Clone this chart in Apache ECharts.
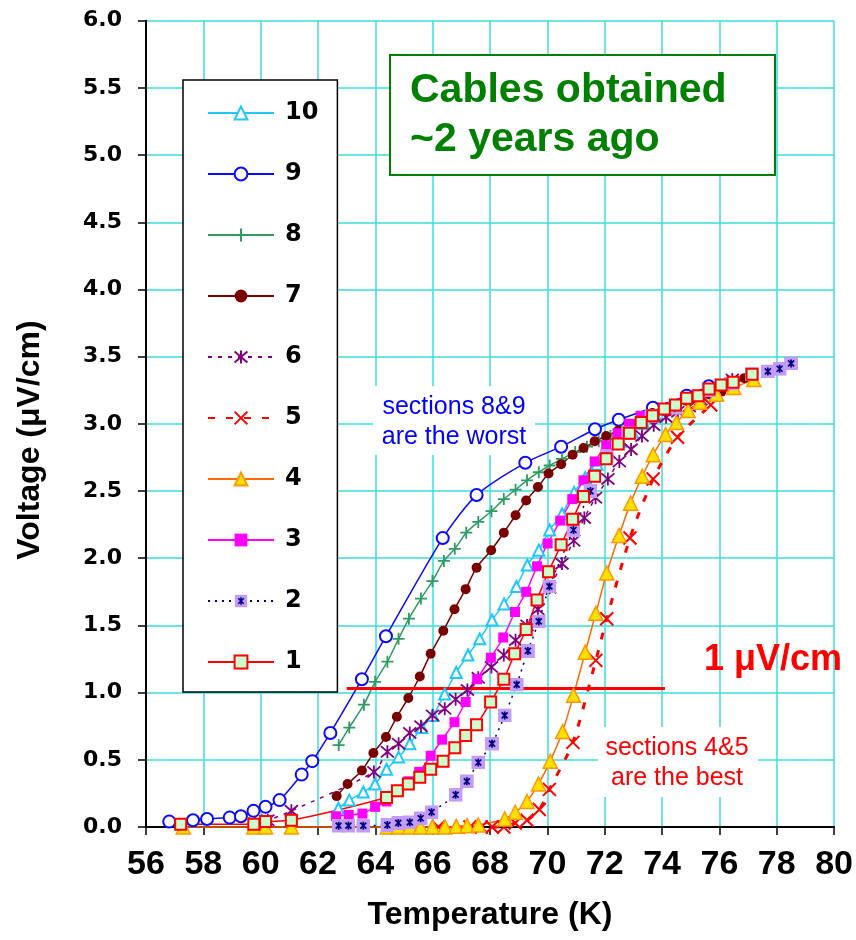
<!DOCTYPE html>
<html>
<head>
<meta charset="utf-8">
<script src="https://cdn.jsdelivr.net/npm/echarts@6/dist/echarts.min.js"></script>
<style>
html,body{margin:0;padding:0;background:#fff;}
#chart{width:856px;height:940px;}
</style>
</head>
<body>
<div id="chart"></div>
<script>
// ---- data (temperature K, voltage uV/cm) ----
const xTicks = [56,58,60,62,64,66,68,70,72,74,76,78,80];
const seriesNames = ['10','9','8','7','6','5','4','3','2','1'];

const s10x = [62.71,63.09,63.58,63.99,64.39,64.81,65.2,65.62,66.01,66.42,66.82,67.23,67.64,68.07,68.49,68.92,69.3,69.7,70.08,70.51,70.93,71.32,71.73,72.14,72.55,72.96,73.37,73.78];
const s10y = [0.14,0.20,0.26,0.32,0.43,0.52,0.62,0.74,0.83,0.99,1.15,1.28,1.40,1.54,1.66,1.79,1.95,2.06,2.21,2.33,2.49,2.60,2.70,2.79,2.87,2.94,3.00,3.06];

const s9x = [56.81,57.64,58.13,58.92,59.31,59.75,60.17,60.66,61.43,61.80,62.43,63.53,64.37,66.35,67.53,69.23,70.48,71.66,72.49,73.68,74.86,75.63];
const s9y = [0.04,0.05,0.06,0.07,0.08,0.12,0.15,0.20,0.39,0.49,0.70,1.10,1.42,2.15,2.47,2.71,2.83,2.96,3.03,3.12,3.21,3.28];

const s8x = [62.72,63.09,63.60,63.99,64.42,64.81,65.17,65.59,65.99,66.39,66.77,67.17,67.59,68.05,68.48,68.89,69.29,69.70,70.08,70.51,70.97,71.38,71.79,72.20,72.61,73.02,73.43,73.84];
const s8y = [0.61,0.74,0.91,1.08,1.23,1.40,1.55,1.70,1.83,1.98,2.07,2.19,2.27,2.35,2.44,2.51,2.58,2.64,2.69,2.74,2.79,2.83,2.87,2.91,2.95,2.99,3.03,3.07];

const s7x = [62.65,63.03,63.53,63.93,64.37,64.75,65.15,65.55,65.93,66.37,66.76,67.15,67.53,68.04,68.48,68.89,69.26,69.67,70.04,70.48,70.88,71.26,71.65,72.05,72.47,72.86,73.26,73.66,74.06,74.46,74.86,75.26,75.66,76.07,76.47,76.87];
const s7y = [0.23,0.32,0.42,0.55,0.67,0.82,0.96,1.12,1.29,1.46,1.62,1.77,1.93,2.06,2.19,2.32,2.43,2.53,2.63,2.70,2.77,2.82,2.87,2.91,2.95,3.00,3.04,3.08,3.11,3.14,3.17,3.20,3.22,3.24,3.29,3.34];

const s6x = [59.8,60.25,61.07,63.95,64.42,64.81,65.2,65.59,65.99,66.42,66.8,67.21,67.59,68.05,68.48,68.89,69.29,69.67,70.08,70.51,70.92,71.29,71.68,72.11,72.51,72.92,73.3,73.71,74.14,74.55,74.95,75.35,75.66,76.45];
const s6y = [0.03,0.05,0.12,0.41,0.56,0.62,0.70,0.75,0.83,0.88,0.95,1.02,1.11,1.19,1.28,1.39,1.50,1.62,1.78,1.96,2.13,2.30,2.45,2.59,2.72,2.81,2.91,2.99,3.05,3.09,3.13,3.18,3.23,3.33];

const s5x = [66.2,67.3,67.7,68.07,68.48,68.88,69.29,69.72,70.07,70.89,71.69,72.07,72.88,73.69,74.54,75.7];
const s5y = [0.0,0.0,0.0,0.0,0.0,0.03,0.05,0.13,0.28,0.63,1.24,1.55,2.15,2.59,2.90,3.14];

const s4x = [57.3,59.76,60.17,61.07,64.42,64.8,65.2,65.58,65.99,66.43,66.82,67.2,67.59,68.51,68.88,69.29,69.69,70.1,70.53,70.91,71.32,71.69,72.07,72.5,72.9,73.31,73.69,74.12,74.5,74.91,75.32,75.9,76.5,77.2];
const s4y = [0,0,0,0,0,0,0,0,0,0,0.005,0.01,0.015,0.06,0.11,0.19,0.32,0.49,0.71,0.98,1.30,1.59,1.89,2.17,2.41,2.61,2.77,2.92,3.01,3.10,3.16,3.22,3.27,3.33];

const s3x = [62.63,63.07,63.55,63.99,64.39,64.77,65.15,65.53,65.93,66.33,66.76,67.15,67.55,68.03,68.46,68.87,69.26,69.64,70.01,70.45,70.87,71.26,71.65,72.05,72.45,72.85,73.25];
const s3y = [0.08,0.09,0.10,0.15,0.19,0.26,0.34,0.41,0.53,0.65,0.78,0.93,1.10,1.26,1.41,1.60,1.75,1.94,2.11,2.28,2.44,2.58,2.72,2.84,2.93,3.00,3.06];

const s2x = [62.72,63.06,63.58,64.42,64.8,65.2,65.58,65.96,66.8,67.19,67.59,68.07,68.51,68.93,69.32,69.7,70.07,70.91,71.5,72.07,72.82,73.63,74.45,75.64,76.4,77.13,77.69,78.1,78.5];
const s2y = [0.01,0.01,0.01,0.015,0.03,0.035,0.065,0.11,0.24,0.34,0.48,0.62,0.83,1.06,1.31,1.53,1.79,2.21,2.5,2.76,2.93,3.06,3.12,3.25,3.30,3.37,3.39,3.41,3.45];

const s1x = [57.21,59.76,60.17,61.07,64.39,64.77,65.15,65.55,65.93,66.36,66.77,67.15,67.53,68.02,68.48,68.86,69.26,69.64,70.04,70.48,70.88,71.26,71.65,72.05,72.47,72.86,73.27,73.67,74.08,74.47,74.86,75.26,75.64,76.06,76.48,77.14];
const s1y = [0.02,0.02,0.04,0.05,0.22,0.27,0.32,0.37,0.43,0.49,0.59,0.68,0.76,0.93,1.10,1.29,1.47,1.69,1.90,2.10,2.29,2.46,2.61,2.74,2.85,2.93,3.01,3.06,3.11,3.14,3.19,3.21,3.26,3.29,3.31,3.37];

// 1 uV/cm criterion line
const critX = [63.0, 74.1];
const critY = [1.03, 1.03];

// ---- helpers ----
function zip(xs, ys){ return xs.map((x,i)=>[x, ys[i]]); }

const box2svg = "<svg xmlns='http://www.w3.org/2000/svg' width='28' height='28' viewBox='0 0 28 28'><rect width='28' height='28' fill='#c39cf7'/><path d='M14 6V22M8 8L20 20M20 8L8 20' stroke='#000080' stroke-width='3.4' fill='none'/></svg>";
const box2sym = 'image://data:image/svg+xml;charset=utf-8,' + encodeURIComponent(box2svg);

const GRID = '#3cdcdc';

function line(name, xs, ys, color, width, type, symbol, size, itemStyle){
  return {
    name: name, type: 'line', data: zip(xs, ys),
    smooth: 0.25, clip: false, animation: false,
    symbol: symbol, symbolSize: size, showAllSymbol: true,
    lineStyle: {color: color, width: width, type: type},
    itemStyle: itemStyle,
    emphasis: {disabled: true}
  };
}

const series = [
  line('10', s10x, s10y, '#1ec8ff', 1.5, 'solid', 'emptyTriangle', 11, {color:'#1ec8ff', borderWidth:1.5}),
  line('9', s9x, s9y, '#0a0aff', 1.5, 'solid', 'emptyCircle', 12, {color:'#0a0aff', borderWidth:1.5}),
  line('8', s8x, s8y, '#2e9b63', 1.5, 'solid', 'path://M5,0L5,10M0,5L10,5', 12, {color:'#2e9b63', borderColor:'#2e9b63', borderWidth:1.8}),
  line('7', s7x, s7y, '#7a0000', 1.5, 'solid', 'circle', 10, {color:'#7a0000'}),
  line('6', s6x, s6y, '#800080', 1.5, [4,6], 'path://M5,0L5,10M0.7,0.7L9.3,9.3M9.3,0.7L0.7,9.3', 13, {color:'#800080', borderColor:'#800080', borderWidth:1.8}),
  line('5', s5x, s5y, '#ff0000', 3, [7,11], 'path://M0,0L10,10M10,0L0,10', 13, {color:'#ff0000', borderColor:'#ff0000', borderWidth:2}),
  line('4', s4x, s4y, '#ff6a00', 1.5, 'solid', 'triangle', 14, {color:'#ffe000', borderColor:'#ff9900', borderWidth:1.5}),
  line('3', s3x, s3y, '#ff00ff', 1.5, 'solid', 'rect', 10, {color:'#ff00ff'}),
  line('2', s2x, s2y, '#000080', 1.5, [2,5], box2sym, 14, {color:'#c39cf7'}),
  line('1', s1x, s1y, '#ff0000', 1.5, 'solid', 'rect', 11, {color:'#ccffcc', borderColor:'#ff0000', borderWidth:2}),
  {
    name: 'criterion', type: 'line', data: zip(critX, critY), symbol: 'none',
    lineStyle: {color:'#ff0000', width:3}, animation:false, clip:false, z: 3,
    emphasis: {disabled: true}
  }
];

const chart = echarts.init(document.getElementById('chart'), null, {renderer:'canvas'});
chart.setOption({
  animation: false,
  backgroundColor: '#ffffff',
  grid: {left: 146, right: 19.5, top: 20.7, bottom: 113, containLabel: false},
  xAxis: {
    type: 'value', min: xTicks[0], max: xTicks[xTicks.length-1], interval: 2,
    axisLine: {show: true, onZero: false, lineStyle: {color:'#000', width:2}},
    axisTick: {show: true, length: 8, lineStyle: {color:'#000', width:1.5}},
    axisLabel: {margin: 21, color:'#000', fontSize: 34, fontWeight:'bold',
      fontFamily: "'Liberation Sans Narrow','Arial Narrow','Liberation Sans',Arial,sans-serif"},
    splitLine: {show: true, lineStyle: {color: GRID, width: 1.5}}
  },
  yAxis: {
    type: 'value', min: 0, max: 6, interval: 0.5,
    axisLine: {show: true, onZero: false, lineStyle: {color:'#000', width:2}},
    axisTick: {show: true, length: 8, lineStyle: {color:'#000', width:1.5}},
    axisLabel: {margin: 24, color:'#000', fontSize: 22, fontWeight:'bold', fontFamily:"'DejaVu Sans',sans-serif",
      formatter: v => v.toFixed(1)},
    splitLine: {show: true, lineStyle: {color: GRID, width: 1.5}}
  },
  legend: {
    orient: 'vertical', left: 183, top: 80,
    padding: [21, 19, 18, 24], itemGap: 37, itemWidth: 66, itemHeight: 16,
    borderColor: '#000', borderWidth: 1.5, backgroundColor: '#fff',
    textStyle: {fontFamily:"'DejaVu Sans',sans-serif", fontWeight:'bold', fontSize:24, color:'#000', lineHeight:24, padding:[0,0,0,6]},
    data: seriesNames,
    selectedMode: false
  },
  graphic: [
    {type:'rect', shape:{x:390, y:55, width:385, height:120}, style:{fill:'#fff', stroke:'#008000', lineWidth:2}, z:50},
    {type:'text', x:410, y:91, style:{text:'Cables obtained', fill:'#008000', font:"bold 41px 'Liberation Sans', Arial, sans-serif", align:'left', verticalAlign:'middle'}, z:51},
    {type:'text', x:410, y:140, style:{text:'~2 years ago', fill:'#008000', font:"bold 41px 'Liberation Sans', Arial, sans-serif", align:'left', verticalAlign:'middle'}, z:51},

    {type:'rect', shape:{x:373, y:386, width:162, height:69}, style:{fill:'#fff'}, z:50},
    {type:'text', x:454, y:407, style:{text:'sections 8&9', fill:'#0000ff', font:"25px 'Liberation Sans', Arial, sans-serif", align:'center', verticalAlign:'middle'}, z:51},
    {type:'text', x:454, y:437, style:{text:'are the worst', fill:'#0000ff', font:"25px 'Liberation Sans', Arial, sans-serif", align:'center', verticalAlign:'middle'}, z:51},

    {type:'rect', shape:{x:598, y:727, width:160, height:70}, style:{fill:'#fff'}, z:50},
    {type:'text', x:677, y:748, style:{text:'sections 4&5', fill:'#ff0000', font:"25px 'Liberation Sans', Arial, sans-serif", align:'center', verticalAlign:'middle'}, z:51},
    {type:'text', x:677, y:778, style:{text:'are the best', fill:'#ff0000', font:"25px 'Liberation Sans', Arial, sans-serif", align:'center', verticalAlign:'middle'}, z:51},

    {type:'text', x:773, y:660, style:{text:'1 μV/cm', fill:'#ff0000', font:"bold 36px 'Liberation Sans', Arial, sans-serif", align:'center', verticalAlign:'middle'}, z:51},

    {type:'text', x:490, y:915, style:{text:'Temperature (K)', fill:'#000', font:"bold 32px 'Liberation Sans Narrow','Arial Narrow','Liberation Sans', Arial, sans-serif", align:'center', verticalAlign:'middle'}, z:51},
    {type:'text', x:30, y:440, rotation: Math.PI/2, style:{text:'Voltage (μV/cm)', fill:'#000', font:"bold 32px 'Liberation Sans Narrow','Arial Narrow','Liberation Sans', Arial, sans-serif", align:'center', verticalAlign:'middle'}, z:51}
  ],
  series: series
});
</script>
</body>
</html>
